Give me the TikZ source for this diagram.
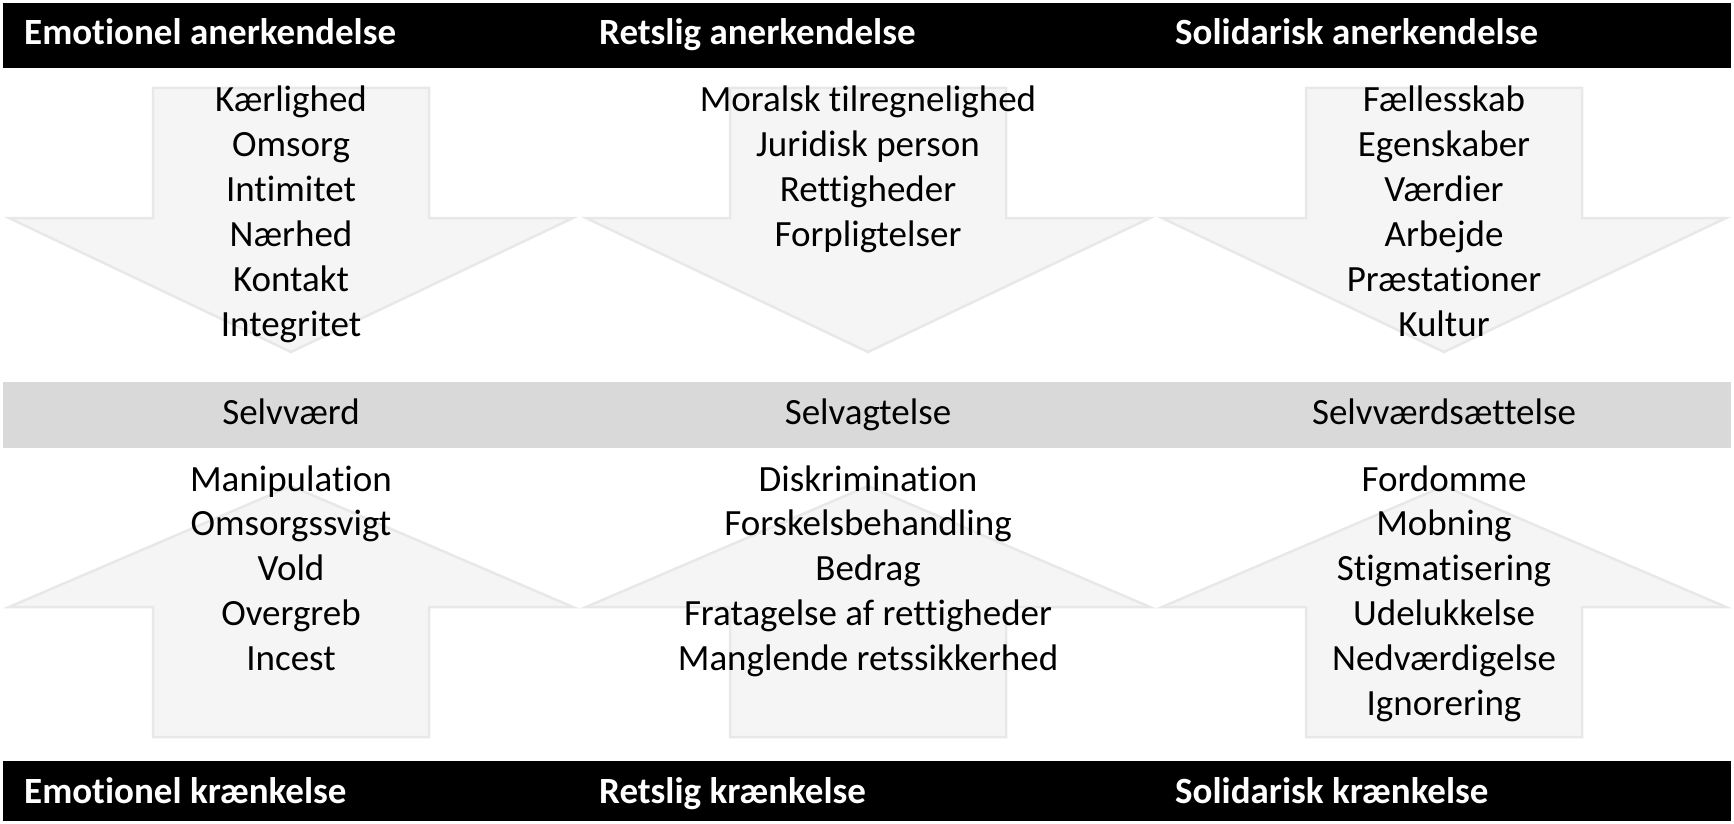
\documentclass[tikz,border=0pt]{standalone}
\usepackage{fontspec}
\setmainfont[Ligatures={NoCommon}]{Carlito}
\definecolor{arrowfill}{HTML}{F5F5F5}
\definecolor{arrowline}{HTML}{E8E8E8}
\definecolor{midbar}{HTML}{D9D9D9}
\tikzset{
  bar/.style={fill=black, draw=none},
  graybar/.style={fill=midbar, draw=none},
  bigarrow/.style={fill=arrowfill, draw=arrowline, line width=2.5pt, line join=miter},
  head/.style={anchor=base west, inner sep=0pt, text=white, font=\fontsize{37}{44}\selectfont\bfseries},
  item/.style={anchor=base, inner sep=0pt, font=\fontsize{37}{44}\selectfont},
}
\newcommand{\downarrowshape}[1]{%
  \draw[bigarrow] (#1-138,88) -- (#1+138,88) -- (#1+138,218) -- (#1+282,218) -- (#1,352) -- (#1-282,218) -- (#1-138,218) -- cycle;}
\newcommand{\uparrowshape}[1]{%
  \draw[bigarrow] (#1-138,737) -- (#1+138,737) -- (#1+138,607) -- (#1+282,607) -- (#1,486) -- (#1-282,607) -- (#1-138,607) -- cycle;}
\begin{document}
\begin{tikzpicture}[x=1pt,y=-1pt]
\useasboundingbox (0,0) rectangle (1734,824);
% bars
\fill[bar] (3,3) rectangle (1731,68);
\fill[graybar] (3,382) rectangle (1731,448);
\fill[bar] (3,761) rectangle (1731,821);
% arrows
\downarrowshape{291}
\downarrowshape{868}
\downarrowshape{1444}
\uparrowshape{291}
\uparrowshape{868}
\uparrowshape{1444}
% headers
\node[head] (h1) at (24,45) {Emotionel anerkendelse};
\node[head] (h2) at (599,45) {Retslig anerkendelse};
\node[head] (h3) at (1175,45) {Solidarisk anerkendelse};
\node[head] (f1) at (24,803) {Emotionel krænkelse};
\node[head] (f2) at (599,803) {Retslig krænkelse};
\node[head] (f3) at (1175,803) {Solidarisk krænkelse};
% middle
\node[item] (m1) at (291,424) {Selvværd};
\node[item] (m2) at (868,424) {Selvagtelse};
\node[item] (m3) at (1444,424) {Selvværdsættelse};
% lists
\foreach \t [count=\i] in {Kærlighed,Omsorg,Intimitet,Nærhed,Kontakt,Integritet}
  \node[item] (ta\i) at (291,{112+44.8*(\i-1)}) {\t};
\foreach \t [count=\i] in {Moralsk tilregnelighed,Juridisk person,Rettigheder,Forpligtelser}
  \node[item] (tb\i) at (868,{112+44.8*(\i-1)}) {\t};
\foreach \t [count=\i] in {Fællesskab,Egenskaber,Værdier,Arbejde,Præstationer,Kultur}
  \node[item] (tc\i) at (1444,{112+44.8*(\i-1)}) {\t};
\foreach \t [count=\i] in {Manipulation,Omsorgssvigt,Vold,Overgreb,Incest}
  \node[item] (ba\i) at (291,{491+44.8*(\i-1)}) {\t};
\foreach \t [count=\i] in {Diskrimination,Forskelsbehandling,Bedrag,Fratagelse af rettigheder,Manglende retssikkerhed}
  \node[item] (bb\i) at (868,{491+44.8*(\i-1)}) {\t};
\foreach \t [count=\i] in {Fordomme,Mobning,Stigmatisering,Udelukkelse,Nedværdigelse,Ignorering}
  \node[item] (bc\i) at (1444,{491+44.8*(\i-1)}) {\t};
\end{tikzpicture}
\end{document}
